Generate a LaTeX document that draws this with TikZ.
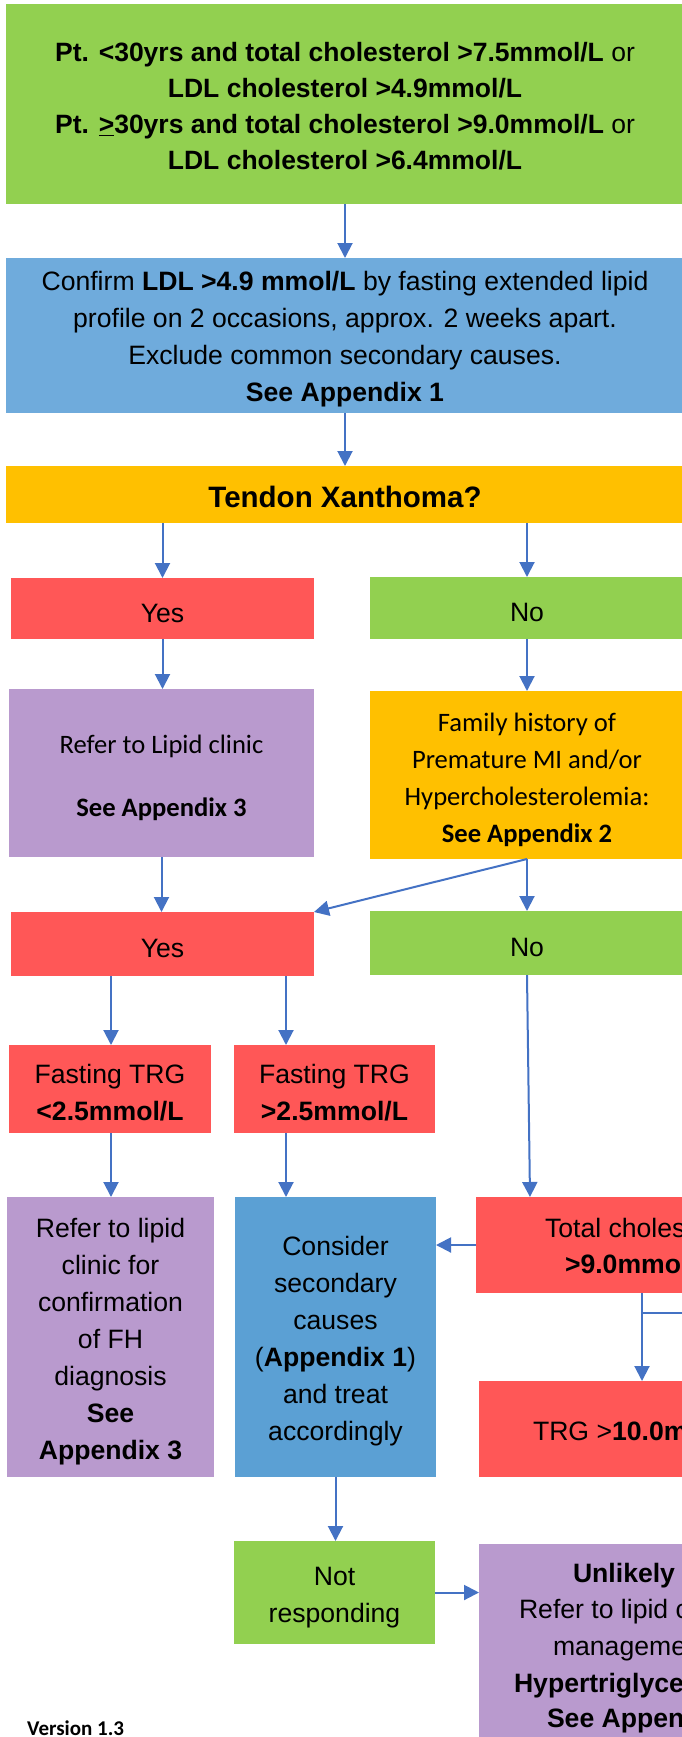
\documentclass[tikz,border=0pt]{standalone}
\usepackage{fontspec}
\setmainfont{Liberation Sans}
\newfontfamily\calfont{Carlito}
\usetikzlibrary{arrows.meta}
\definecolor{cgreen}{HTML}{92D050}
\definecolor{cblueA}{HTML}{6FABDC}
\definecolor{cblueB}{HTML}{5BA0D4}
\definecolor{corange}{HTML}{FFC000}
\definecolor{cred}{HTML}{FF5757}
\definecolor{cpurple}{HTML}{B99ACE}
\definecolor{carrow}{HTML}{4472C4}
\newcommand{\myAr}{\fontsize{26.6}{37}\selectfont}
\newcommand{\myTop}{\fontsize{26.5}{36}\selectfont}
\newcommand{\myCal}{\calfont\fontsize{26.6}{37}\selectfont}
\newcommand{\tsA}{\rule{0pt}{27.5pt}}
\newcommand{\tsB}{\rule{0pt}{23.5pt}}
\newcommand{\tsC}{\rule{0pt}{28.5pt}}
\begin{document}
\begin{tikzpicture}[x=1pt,y=-1pt,
  box/.style={inner sep=0pt, outer sep=0pt, align=center, font=\myAr},
  frag/.style={inner sep=0pt, outer sep=0pt, anchor=base west, font=\myAr},
  arr/.style={draw=carrow, line width=2pt, -{Triangle[length=15pt,width=15pt]}},
  thin/.style={draw=carrow, line width=1.2pt}]
\useasboundingbox (0,0) rectangle (682,1737);
\clip (0,0) rectangle (682,1737);

% boxes
\node[box, fill=cgreen, minimum width=678pt, minimum height=200pt, font=\myTop] (top) at (345,104)
  {\tsB\textbf{Pt. <30yrs and total cholesterol >7.5mmol/L} or\\
   \textbf{LDL cholesterol >4.9mmol/L}\\
   \textbf{Pt. \underline{>}30yrs and total cholesterol >9.0mmol/L} or\\
   \textbf{LDL cholesterol >6.4mmol/L}};
\node[box, fill=cblueA, minimum width=678pt, minimum height=155pt] (confirm) at (345,335.5)
  {\tsA Confirm \textbf{LDL >4.9 mmol/L} by fasting extended lipid\\
   profile on 2 occasions, approx. 2 weeks apart.\\
   Exclude common secondary causes.\\
   \textbf{See Appendix 1}};
\node[box, fill=corange, minimum width=678pt, minimum height=57pt, font=\bfseries\fontsize{29.5}{35}\selectfont] (tendon) at (345,494.5)
  {\rule{0pt}{27pt}Tendon Xanthoma?};
\node[box, fill=cred, minimum width=303pt, minimum height=61pt] (yes1) at (162.5,608.5) {\tsA Yes};
\node[box, fill=cgreen, minimum width=314pt, minimum height=62pt] (no1) at (527,608) {\tsA No};
\node[box, fill=cpurple, minimum width=305pt, minimum height=168pt, font=\myCal] (refer1) at (161.5,773)
  {\tsC Refer to Lipid clinic\\[26pt]\textbf{See Appendix 3}};
\node[box, fill=corange, minimum width=314pt, minimum height=168pt, font=\myCal] (family) at (527,775)
  {\tsC Family history of\\Premature MI and/or\\Hypercholesterolemia:\\\textbf{See Appendix 2}};
\node[box, fill=cred, minimum width=303pt, minimum height=64pt] (yes2) at (162.5,944) {\tsA Yes};
\node[box, fill=cgreen, minimum width=314pt, minimum height=64pt] (no2) at (527,943) {\tsA No};
\node[box, fill=cred, minimum width=202pt, minimum height=88pt] (trgA) at (110,1089)
  {\tsA Fasting TRG\\\textbf{<2.5mmol/L}};
\node[box, fill=cred, minimum width=201pt, minimum height=88pt] (trgB) at (334.5,1089)
  {\tsA Fasting TRG\\\textbf{>2.5mmol/L}};
\node[box, fill=cpurple, minimum width=207pt, minimum height=280pt] (refer2) at (110.5,1337)
  {\tsA Refer to lipid\\clinic for\\confirmation\\of FH\\diagnosis\\\textbf{See}\\\textbf{Appendix 3}};
\node[box, fill=cblueB, minimum width=201pt, minimum height=280pt] (consider) at (335.5,1337)
  {\tsA Consider\\secondary\\causes\\(\textbf{Appendix 1})\\and treat\\accordingly};
\node[box, fill=cred, minimum width=314pt, minimum height=96pt] (total) at (633,1245) {};
\node[box, fill=cred, minimum width=311pt, minimum height=96pt] (trgX) at (634.5,1429) {};
\node[box, fill=cgreen, minimum width=201pt, minimum height=103pt] (notresp) at (334.5,1592.5)
  {\tsA Not\\responding};
\node[box, fill=cpurple, minimum width=311pt, minimum height=202pt] (unlikely) at (634.5,1645) {};

% texts cut by the right edge of the picture
\node[frag] (t1) at (545,1237) {Total choles};
\node[frag] (t2) at (565,1273) {\textbf{>9.0mmo}};
\node[frag] (t3) at (533,1440) {TRG >\textbf{10.0m}};
\node[frag] (u1) at (573,1582) {\textbf{Unlikely}};
\node[frag] (u2) at (519,1618) {Refer to lipid c};
\node[frag] (u3) at (553,1655) {manageme};
\node[frag] (u4) at (514,1692) {\textbf{Hypertriglyce}};
\node[frag] (u5) at (547,1727) {\textbf{See Appen}};

\node[anchor=base west, inner sep=0pt, font=\calfont\bfseries\fontsize{21}{25}\selectfont] (ver) at (27,1735) {Version 1.3};

% helper x positions
\coordinate (xA) at (111,0);
\coordinate (xB) at (286,0);
\coordinate (xC) at (530,0);
\coordinate (xD) at (642,0);
\coordinate (br) at (642,1313);
\coordinate (brEnd) at (700,1313);

% connectors
\draw[arr] (top.south) -- (confirm.north);
\draw[arr] (confirm.south) -- (tendon.north);
\draw[arr] (tendon.south -| yes1.north) -- (yes1.north);
\draw[arr] (tendon.south -| no1.north) -- (no1.north);
\draw[arr] (yes1.south) -- (refer1.north -| yes1.south);
\draw[arr] (no1.south) -- (family.north);
\draw[arr] (refer1.south) -- (yes2.north -| refer1.south);
\draw[arr] (family.south) -- (yes2.north east);
\draw[arr] (family.south) -- (no2.north);
\draw[arr] (yes2.south -| xA) -- (trgA.north -| xA);
\draw[arr] (yes2.south -| xB) -- (trgB.north -| xB);
\draw[arr] (trgA.south -| xA) -- (refer2.north -| xA);
\draw[arr] (trgB.south -| xB) -- (consider.north -| xB);
\draw[arr] (no2.south) -- (total.north -| xC);
\draw[arr] (total.west) -- (total.west -| consider.east);
\draw[arr] (total.south -| xD) -- (trgX.north -| xD);
\draw[thin] (br) -- (brEnd);
\draw[arr] (consider.south) -- (consider.south |- notresp.north);
\draw[arr] (notresp.east) -- (notresp.east -| unlikely.west);
\end{tikzpicture}
\end{document}
